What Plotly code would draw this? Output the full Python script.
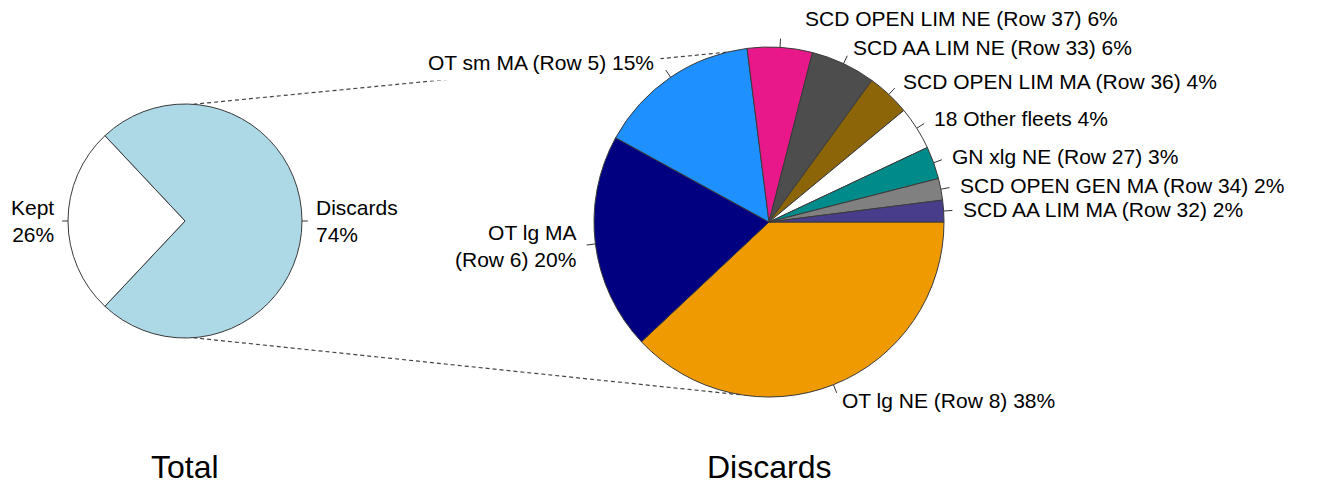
import math
import plotly.graph_objects as go

# data
total_labels = ['Discards', 'Kept']
total_values = [74, 26]
total_colors = ['#ADD8E6', '#FFFFFF']

disc_labels = ['OT lg NE (Row 8)', 'OT lg MA<br>(Row 6)', 'OT sm MA (Row 5)',
               'SCD OPEN LIM NE (Row 37)', 'SCD AA LIM NE (Row 33)',
               'SCD OPEN LIM MA (Row 36)', '18 Other fleets', 'GN xlg NE (Row 27)',
               'SCD OPEN GEN MA (Row 34)', 'SCD AA LIM MA (Row 32)']
disc_values = [38, 20, 15, 6, 6, 4, 4, 3, 2, 2]
disc_colors = ['#EE9A00', '#000080', '#1E90FF', '#E8178A', '#4D4D4D',
               '#8B6508', '#FFFFFF', '#008B8B', '#808080', '#483D8B']

W, H = 1321, 502
M = 8  # default body margin of the html page
FONT = 'Arial, Liberation Sans, sans-serif'

# pie geometry in page pixels (center x, center y, radius)
left_pie = (185, 221, 117)
right_pie = (769, 222, 175)


def px(x):
    return (x - M) / (W - 2 * M)


def py(y):
    return 1 - (y - M) / (H - 2 * M)


def domain(c):
    cx, cy, r = c
    return dict(x=[px(cx - r), px(cx + r)], y=[py(cy + r), py(cy - r)])


def pt(c, ang, k=1.0):
    cx, cy, r = c
    a = math.radians(ang)
    return cx + k * r * math.cos(a), cy - k * r * math.sin(a)


left_rot = 90 - 0.5 * 360 * total_values[0] / sum(total_values)

fig = go.Figure()
fig.add_trace(go.Pie(
    labels=total_labels, values=total_values, sort=False, direction='clockwise',
    rotation=left_rot, textinfo='none', hoverinfo='label+percent',
    marker=dict(colors=total_colors, line=dict(color='#3a3a3a', width=1)),
    domain=domain(left_pie), showlegend=False))
fig.add_trace(go.Pie(
    labels=disc_labels, values=disc_values, sort=False, direction='clockwise',
    rotation=90, textinfo='none', hoverinfo='label+percent',
    marker=dict(colors=disc_colors, line=dict(color='#3a3a3a', width=1)),
    domain=domain(right_pie), showlegend=False))

shapes = []
annotations = []

# connecting dashed lines
for a1, a2 in [(86, 104), (-86, -98.5)]:
    x0, y0 = pt(left_pie, a1)
    x1, y1 = pt(right_pie, a2)
    shapes.append(dict(type='line', xref='paper', yref='paper',
                       x0=px(x0), y0=py(y0), x1=px(x1), y1=py(y1),
                       line=dict(color='#444444', width=1.2, dash='4px,3px')))


def label_pie(c, labels, values, start, two_line=False, nudge=None, masked=()):
    tot = sum(values)
    cum = 0
    for i, (lab, v) in enumerate(zip(labels, values)):
        mid = start - (cum + v / 2) * 360 / tot
        cum += v
        tx0, ty0 = pt(c, mid, 1.0)
        tx1, ty1 = pt(c, mid, 1.05)
        shapes.append(dict(type='line', xref='paper', yref='paper',
                           x0=px(tx0), y0=py(ty0), x1=px(tx1), y1=py(ty1),
                           line=dict(color='#333333', width=1)))
        lx, ly = pt(c, mid, 1.1)
        dx, dy = (nudge or {}).get(i, (0, 0))
        pct = round(100 * v / tot)
        text = lab + ('<br>' if two_line else ' ') + f'{pct}%'
        side = 'left' if math.cos(math.radians(mid)) > 0 else 'right'
        annotations.append(dict(
            x=px(lx + dx), y=py(ly + dy), xref='paper', yref='paper',
            text=text, showarrow=False, align=side, xanchor=side,
            yanchor='middle', font=dict(size=21, color='black', family=FONT),
            bgcolor='white' if i in masked else None,
            borderpad=6 if i in masked else 1))


label_pie(left_pie, total_labels, total_values, 90 - left_rot, two_line=True)
label_pie(right_pie, disc_labels, disc_values, 0, nudge={3: (22, -11)}, masked=(2,))

for (cx, cy, r), title in [(left_pie, 'Total'), (right_pie, 'Discards')]:
    annotations.append(dict(x=px(cx), y=py(467), xref='paper', yref='paper',
                            text=title, showarrow=False, xanchor='center', yanchor='middle',
                            font=dict(size=32, color='black', family=FONT)))

fig.update_layout(width=W - 2 * M, height=H - 2 * M, margin=dict(l=0, r=0, t=0, b=0),
                  paper_bgcolor='white', plot_bgcolor='white',
                  shapes=shapes, annotations=annotations)
fig.write_html('out.html')
